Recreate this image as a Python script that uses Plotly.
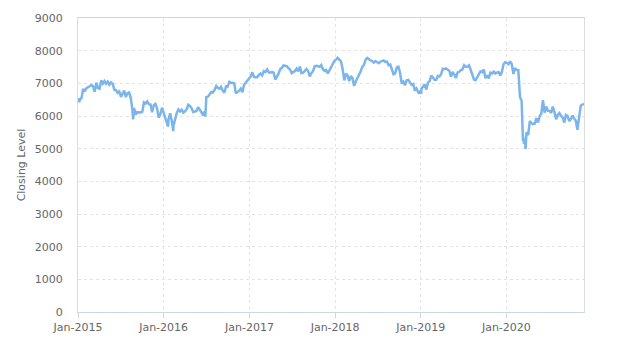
import pandas as pd
import plotly.graph_objects as go

# Weekly (Friday) closing levels
close_2015 = [6548, 6502, 6550, 6832, 6749, 6854, 6873, 6912, 6947, 6911, 6741, 7022, 6855,
              6833, 7090, 6995, 7071, 6986, 7047, 6961, 7032, 6984, 6805, 6785, 6710, 6753,
              6585, 6673, 6775, 6579, 6696, 6718, 6550, 6188, 6247, 6042, 6118, 6105, 6109,
              6130, 6416, 6379, 6444, 6361, 6353, 6118, 6334, 6375, 6238, 5952, 6052, 6254]
close_2016 = [5912, 5804, 5900, 6083, 5848, 5707, 5950, 6097, 6199, 6140, 6190, 6106,
              6146, 6204, 6344, 6310, 6242, 6125, 6138, 6156, 6271, 6209, 6116, 6021, 6138,
              6577, 6591, 6669, 6730, 6724, 6793, 6916, 6859, 6838, 6895, 6777, 6710, 6910, 6899,
              7044, 7013, 7020, 6996, 6693, 6730, 6776, 6840, 6730, 6954, 7011, 7068, 7143]
close_2017 = [7210, 7338, 7198, 7184, 7188, 7258, 7299, 7243, 7374, 7343, 7425, 7337, 7323,
              7349, 7328, 7115, 7204, 7297, 7435, 7470, 7548, 7548, 7527, 7464, 7424, 7313,
              7350, 7378, 7453, 7368, 7511, 7310, 7324, 7401, 7438, 7378, 7215, 7310, 7373,
              7522, 7535, 7523, 7505, 7560, 7433, 7380, 7409, 7300, 7394, 7490, 7603, 7688]
close_2018 = [7724, 7779, 7730, 7666, 7443, 7092, 7294, 7244, 7070, 7224, 7164, 6922, 7057,
              7184, 7265, 7368, 7502, 7567, 7725, 7779, 7730, 7702, 7681, 7634, 7682, 7637,
              7617, 7662, 7679, 7701, 7659, 7667, 7559, 7577, 7432, 7277, 7304, 7490, 7510,
              7318, 6996, 7049, 6940, 7094, 7105, 7014, 6953, 6980, 6778, 6845, 6721, 6733]
close_2019 = [6837, 6918, 6968, 6809, 7020, 7071, 7237, 7178, 7107, 7104, 7228, 7208, 7279,
              7447, 7437, 7459, 7428, 7380, 7203, 7348, 7277, 7161, 7331, 7346, 7407, 7426,
              7553, 7506, 7508, 7549, 7407, 7254, 7117, 7095, 7207, 7282, 7367, 7345, 7426,
              7155, 7247, 7150, 7324, 7302, 7359, 7303, 7326, 7347, 7240, 7353, 7582, 7645]
close_2020 = [7623, 7588, 7675, 7586, 7286, 7467, 7409, 7404, 6581, 6463, 5366, 5191, 5510,
              5416, 5843, 5787, 5752, 5763, 5936, 5800, 5993, 6077, 6484, 6105, 6292, 6159,
              6157, 6095, 6290, 6124, 5898, 6032, 6090, 6001, 5964, 5799, 6032, 6007, 5843,
              5903, 6016, 5920, 5860, 5577, 5910, 6316, 6351, 6368]
first_friday = {2015: "2015-01-02", 2016: "2016-01-08", 2017: "2017-01-06",
                2018: "2018-01-05", 2019: "2019-01-04", 2020: "2020-01-03"}
yearly = {2015: close_2015, 2016: close_2016, 2017: close_2017,
          2018: close_2018, 2019: close_2019, 2020: close_2020}

# Notable daily closes visible as spikes in the line
spike_dates = ["2015-01-06", "2015-08-24", "2016-01-20", "2016-02-11", "2016-06-27",
               "2018-12-24", "2019-01-03", "2020-03-12", "2020-03-16", "2020-03-23"]
spike_values = [6420, 5898, 5673, 5537, 5982, 6686, 6692, 5237, 5151, 4994]

frames = []
for yr, vals in yearly.items():
    d = pd.date_range(first_friday[yr], periods=len(vals), freq="W-FRI")
    frames.append(pd.DataFrame({"date": d, "close": vals}))
frames.append(pd.DataFrame({"date": pd.to_datetime(spike_dates), "close": spike_values}))
df = pd.concat(frames).sort_values("date").reset_index(drop=True)

y_ticks = [0, 1000, 2000, 3000, 4000, 5000, 6000, 7000, 8000, 9000]

fig = go.Figure(go.Scatter(x=df["date"], y=df["close"], mode="lines",
                           line=dict(color="#7cb5ec", width=2.5), hoverinfo="skip"))

font = dict(family="DejaVu Sans, Lucida Grande, sans-serif", size=11, color="#666666")
fig.update_layout(
    width=624, height=346,
    margin=dict(l=78, r=40, t=14, b=32),
    paper_bgcolor="white", plot_bgcolor="white",
    showlegend=False, font=font,
)
fig.update_xaxes(
    type="date", range=["2015-01-01", "2020-11-27"],
    tick0="2015-01-01", dtick="M12", tickformat="%b-%Y",
    showgrid=True, gridcolor="#e4e4e4", griddash="3px,3px", gridwidth=1,
    showline=True, linecolor="#d0d6e0", linewidth=1, mirror=True,
    ticks="outside", ticklen=5, tickcolor="#ccd6eb",
    tickfont=dict(size=11, color="#666666"), zeroline=False,
)
fig.update_yaxes(
    range=[0, 9000], tickvals=y_ticks, ticktext=[str(v) for v in y_ticks],
    showgrid=True, gridcolor="#e4e4e4", griddash="3px,3px", gridwidth=1,
    showline=True, linecolor="#dcdcdc", linewidth=1, mirror=True,
    ticks="", ticklabelstandoff=12,
    tickfont=dict(size=11, color="#666666"), zeroline=False,
    title=dict(text="Closing Level", font=dict(size=11, color="#666666"), standoff=6),
)
fig.write_html("out.html")
